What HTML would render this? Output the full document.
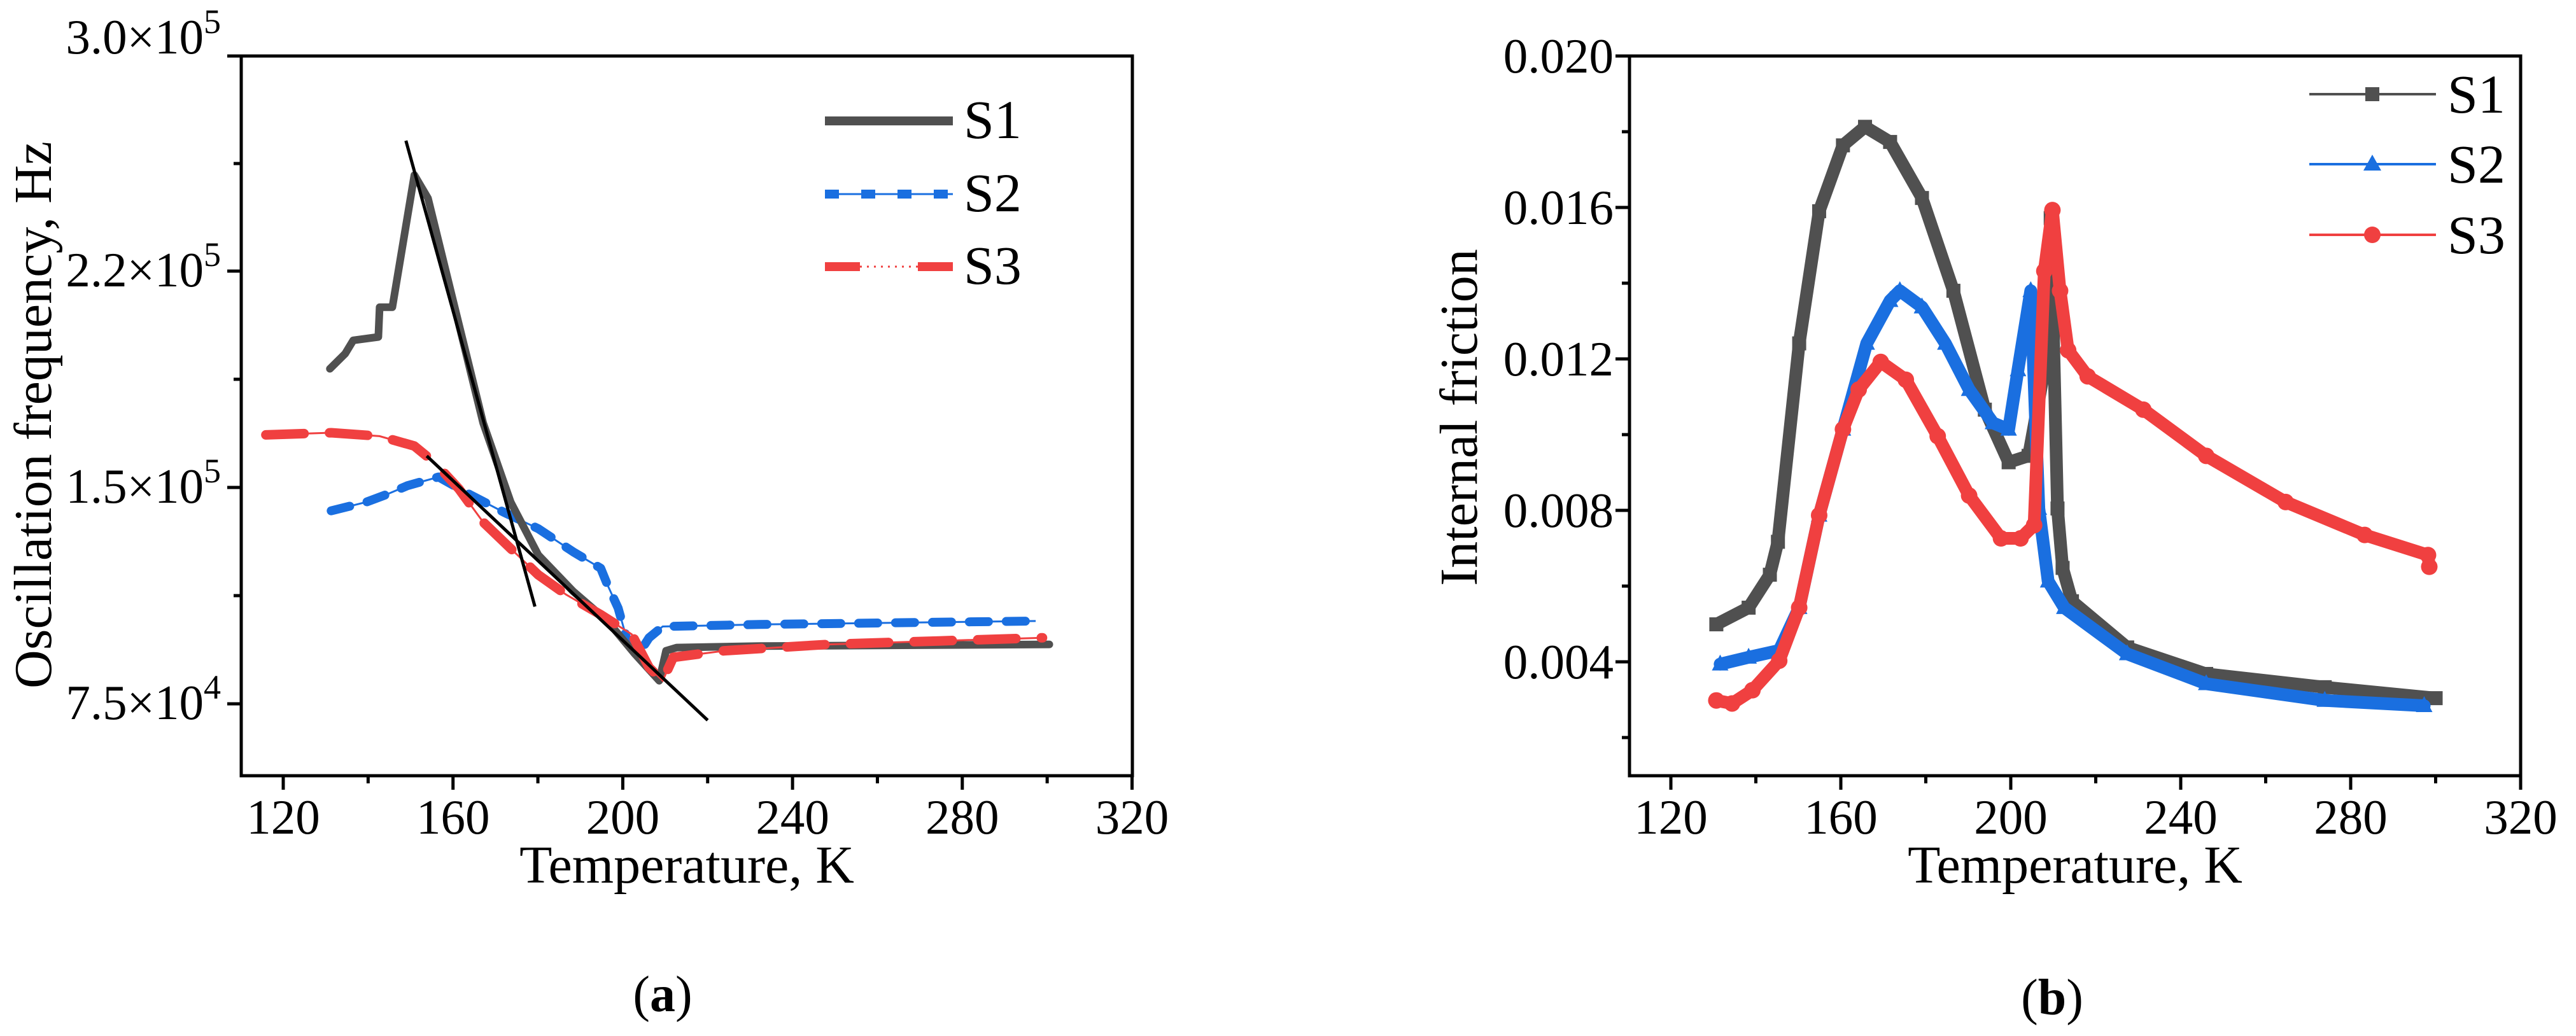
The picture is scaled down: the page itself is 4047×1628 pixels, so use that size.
<!DOCTYPE html>
<html><head><meta charset="utf-8"><style>
html,body{margin:0;padding:0;background:#fff;}
svg{display:block;font-family:"Liberation Serif",serif;}
</style></head>
<body>
<svg id="fig" width="4047" height="1628" viewBox="0 0 4047 1628" xmlns="http://www.w3.org/2000/svg">
<g id="chartA"></g>
<g id="chartB"></g>
</svg>
<script>
// ---------- Chart (a) data ----------
const aXTicks = [120,160,200,240,280,320];
const aYTickVals = [75000,150000,220000,300000];
const aYTickMant = ["7.5","1.5","2.2","3.0"];
const aYTickExp = ["4","5","5","5"];
const s1T = [131.0,134.6,136.5,142.4,142.7,145.7,150.9,154.1,160.6,167.1,173.6,180.1,188.3,196.4,202.9,208.6,210.2,212.7,232.2,300.5];
const s1F = [188400,193300,197600,198700,208300,208300,255700,247100,207200,170900,144900,126600,114000,103700,92200,83000,93400,94500,95000,95600];
const s2T = [131.3,139.5,144.4,149.3,156.6,163.9,172.0,180.1,188.3,194.8,196.4,198.9,201.3,203.7,206.2,209.4,232.2,297.3];
const s2F = [141900,144900,147600,150600,153400,147600,141400,135700,127700,122000,116200,108200,95600,92200,97900,101800,102500,103700];
const s3T = [115.9,131.3,142.7,150.9,155.7,161.4,167.1,173.6,180.1,186.7,194.8,202.1,206.2,209.4,211.9,224.0,248.5,274.5,298.9];
const s3F = [167000,167700,166600,163400,158000,149500,138000,128800,119700,112800,105900,99100,87600,83000,91100,93400,95600,96800,97900];
const fit1T = [148.9,179.3];
const fit1F = [268500,108700];
const fit2T = [153.8,220.0];
const fit2F = [160200,69300];

// ---------- Chart (b) data ----------
const bXTicks = [120,160,200,240,280,320];
const bYTicks = [0.004,0.008,0.012,0.016,0.020];
const bYTickLabels = ["0.004","0.008","0.012","0.016","0.020"];
const b1T = [130.7,138.3,143.3,145.2,150.2,154.9,160.5,165.7,171.6,179.1,186.5,193.9,199.5,204.2,207.9,209.4,211.0,212.2,214.4,227.4,246.0,273.9,300.0];
const b1Q = [0.00499,0.00543,0.00630,0.00717,0.01241,0.01590,0.01764,0.01813,0.01773,0.01625,0.01380,0.01066,0.00927,0.00944,0.01171,0.01572,0.00805,0.00648,0.00560,0.00438,0.00368,0.00333,0.00304];
const b2T = [131.6,138.3,145.5,150.2,154.9,160.5,166.1,171.6,173.9,179.1,184.6,190.2,195.8,199.5,201.7,204.7,206.6,208.8,212.6,227.4,246.0,273.9,297.3];
const b2Q = [0.00394,0.00412,0.00430,0.00543,0.00787,0.01014,0.01241,0.01354,0.01380,0.01337,0.01241,0.01119,0.01031,0.01014,0.01171,0.01380,0.00805,0.00613,0.00543,0.00421,0.00342,0.00298,0.00284];
const b3T = [130.7,134.4,139.2,145.5,150.2,154.9,160.5,164.2,169.4,175.3,182.8,190.2,197.7,202.3,205.5,207.9,209.8,211.6,213.5,218.1,231.2,246.0,264.7,283.3,298.2,298.5];
const b3Q = [0.00298,0.00290,0.00325,0.00403,0.00543,0.00787,0.01014,0.01119,0.01192,0.01145,0.00996,0.00839,0.00726,0.00726,0.00761,0.01432,0.01593,0.01380,0.01223,0.01154,0.01066,0.00944,0.00822,0.00735,0.00682,0.00651];

const NS = "http://www.w3.org/2000/svg";
function mk(parent, tag, attrs, text){
  const e = document.createElementNS(NS, tag);
  for (const k in attrs) e.setAttribute(k, attrs[k]);
  if (text !== undefined) e.textContent = text;
  parent.appendChild(e);
  return e;
}
const GRAY="#505050", BLUE="#1a6fe0", RED="#f04040";

// ===== Chart A =====
(function(){
  const g = document.getElementById('chartA');
  const L=379, R=1779, T=88, B=1219;
  const xA = t => 445 + (t-120)*(1333.5/200);
  const yPix = [1106,766,426,88];
  function yA(v){
    let i = 0;
    if (v <= aYTickVals[0]) i = 0;
    else if (v >= aYTickVals[2]) i = 2;
    else { while (v > aYTickVals[i+1]) i++; }
    const v0=aYTickVals[i], v1=aYTickVals[i+1];
    return yPix[i] + (v-v0)/(v1-v0)*(yPix[i+1]-yPix[i]);
  }
  const frame = mk(g,'rect',{x:L,y:T,width:R-L,height:B-T,fill:'none',stroke:'#000','stroke-width':5});
  
  
  for (let t=120; t<=320; t+=20){
    const major = aXTicks.includes(t);
    const tk = mk(g,'line',{x1:xA(t),x2:xA(t),y1:B,y2:B+(major?22:12),stroke:'#000','stroke-width':5});
    
    
  }
  aXTicks.forEach(t=>{
    const tx = mk(g,'text',{x:xA(t),y:1310,'font-size':77,'text-anchor':'middle'},String(t));
    
    
  });
  const yTickPix=[1106,766,426,88];
  yTickPix.forEach((p,i)=>{
    const tk = mk(g,'line',{x1:L-22,x2:L,y1:p,y2:p,stroke:'#000','stroke-width':5});
    
    
    const tx = mk(g,'text',{x:347,y:p+(i===3?-4:24),'font-size':77,'text-anchor':'end'});
    
    
    mk(tx,'tspan',{},aYTickMant[i]+"×10");
    mk(tx,'tspan',{'font-size':54,dy:-32},aYTickExp[i]);
  });
  [936,596,257].forEach(p=>{
    const tk = mk(g,'line',{x1:L-12,x2:L,y1:p,y2:p,stroke:'#000','stroke-width':5});
    
    
  });
  const xt = mk(g,'text',{x:1079,y:1387,'font-size':84,'text-anchor':'middle'},'Temperature, K');
  
  
  const yt = mk(g,'text',{x:0,y:0,'font-size':84,'text-anchor':'middle',transform:'translate(80,652) rotate(-90)'},'Oscillation frequency, Hz');
  
  
  const cap = mk(g,'text',{x:1041,y:1589,'font-size':80,'text-anchor':'middle'});
  
  
  mk(cap,'tspan',{},'(');
  mk(cap,'tspan',{'font-weight':'bold'},'a');
  mk(cap,'tspan',{},')');

  function pts(ts,vs){ return ts.map((t,i)=>xA(t).toFixed(1)+','+yA(vs[i]).toFixed(1)).join(' '); }
  const s2thin = mk(g,'polyline',{points:pts(s2T,s2F),fill:'none',stroke:BLUE,'stroke-width':3});
  
  
  const s2 = mk(g,'polyline',{points:pts(s2T,s2F),fill:'none',stroke:BLUE,'stroke-width':14,'stroke-dasharray':'30 28','stroke-linecap':'round','stroke-linejoin':'round'});
  
  
  const s1 = mk(g,'polyline',{points:pts(s1T,s1F),fill:'none',stroke:GRAY,'stroke-width':12,'stroke-linejoin':'round','stroke-linecap':'round'});
  
  
  const s3thin = mk(g,'polyline',{points:pts(s3T,s3F),fill:'none',stroke:RED,'stroke-width':3});
  
  
  const s3 = mk(g,'polyline',{points:pts(s3T,s3F),fill:'none',stroke:RED,'stroke-width':15,'stroke-dasharray':'60 40','stroke-linecap':'round','stroke-linejoin':'round'});
  
  
  const f1 = mk(g,'polyline',{points:pts(fit1T,fit1F),fill:'none',stroke:'#000','stroke-width':5});
  
  
  const f2 = mk(g,'polyline',{points:pts(fit2T,fit2F),fill:'none',stroke:'#000','stroke-width':5});
  
  

  const lg = mk(g,'g',{});
  
  
  const l1 = mk(lg,'line',{x1:1296,x2:1497,y1:190,y2:190,stroke:GRAY,'stroke-width':14});
  
  
  const l2a = mk(lg,'line',{x1:1296,x2:1497,y1:305,y2:305,stroke:BLUE,'stroke-width':3});
  
  
  const l2 = mk(lg,'line',{x1:1296,x2:1497,y1:305,y2:305,stroke:BLUE,'stroke-width':14,'stroke-dasharray':'22 35'});
  
  
  const l3a = mk(lg,'line',{x1:1296,x2:1497,y1:419,y2:419,stroke:RED,'stroke-width':3,'stroke-dasharray':'3 8'});
  
  
  const l3 = mk(lg,'line',{x1:1296,x2:1497,y1:419,y2:419,stroke:RED,'stroke-width':14,'stroke-dasharray':'55 91 55'});
  
  
  ['S1','S2','S3'].forEach((s,i)=>{
    const t = mk(lg,'text',{x:1514,y:[217,332,446][i],'font-size':86},s);
    
    
  });
})();

// ===== Chart B =====
(function(){
  const g = document.getElementById('chartB');
  const L=2560, R=3960, T=88, B=1219;
  const xB = t => 2625 + (t-120)*(1335/200);
  const yB = v => 88 + (0.020 - v)/0.004*238;
  const frame = mk(g,'rect',{x:L,y:T,width:R-L,height:B-T,fill:'none',stroke:'#000','stroke-width':5});
  
  
  for (let t=120; t<=320; t+=20){
    const major = bXTicks.includes(t);
    const tk = mk(g,'line',{x1:xB(t),x2:xB(t),y1:B,y2:B+(major?22:12),stroke:'#000','stroke-width':5});
    
    
  }
  bXTicks.forEach(t=>{
    const tx = mk(g,'text',{x:xB(t),y:1310,'font-size':77,'text-anchor':'middle'},String(t));
    
    
  });
  for (let v=0.002; v<0.0205; v+=0.002){
    const major = Math.round(v*1000)%4===0;
    const tk = mk(g,'line',{x1:L-(major?22:12),x2:L,y1:yB(v),y2:yB(v),stroke:'#000','stroke-width':5});
    
    
  }
  bYTicks.forEach((v,i)=>{
    const tx = mk(g,'text',{x:2535,y:yB(v)+26,'font-size':77,'text-anchor':'end'},bYTickLabels[i]);
    
    
  });
  const xt = mk(g,'text',{x:3260,y:1387,'font-size':84,'text-anchor':'middle'},'Temperature, K');
  
  
  const yt = mk(g,'text',{x:0,y:0,'font-size':84,'text-anchor':'middle',transform:'translate(2320,656) rotate(-90)'},'Internal friction');
  
  
  const cap = mk(g,'text',{x:3224,y:1594,'font-size':80,'text-anchor':'middle'});
  
  
  mk(cap,'tspan',{},'(');
  mk(cap,'tspan',{'font-weight':'bold'},'b');
  mk(cap,'tspan',{},')');

  function pts(ts,vs){ return ts.map((t,i)=>xB(t).toFixed(1)+','+yB(vs[i]).toFixed(1)).join(' '); }
  function series(ts,vs,color,shape,name){
    const sg = mk(g,'g',{});
    
    
    const pl = mk(sg,'polyline',{points:pts(ts,vs),fill:'none',stroke:color,'stroke-width':20,'stroke-linejoin':'round','stroke-linecap':'round'});
    
    
    ts.forEach((t,i)=>{
      const x=xB(t), y=yB(vs[i]);
      let m;
      if (shape==='sq') m = mk(sg,'rect',{x:x-11,y:y-11,width:22,height:22,fill:color});
      else if (shape==='tri') m = mk(sg,'polygon',{points:`${x},${y-15} ${x-13},${y+10} ${x+13},${y+10}`,fill:color});
      else m = mk(sg,'circle',{cx:x,cy:y,r:13,fill:color});
      
      
    });
  }
  series(b1T,b1Q,GRAY,'sq','series-s1-b');
  series(b2T,b2Q,BLUE,'tri','series-s2-b');
  series(b3T,b3Q,RED,'circ','series-s3-b');

  const lg = mk(g,'g',{});
  
  
  const ys=[148,258,369], cols=[GRAY,BLUE,RED];
  ['S1','S2','S3'].forEach((s,i)=>{
    const ln = mk(lg,'line',{x1:3628,x2:3827,y1:ys[i],y2:ys[i],stroke:cols[i],'stroke-width':4});
    
    
    let m;
    if (i===0) m = mk(lg,'rect',{x:3716,y:ys[i]-11,width:22,height:22,fill:cols[i]});
    else if (i===1) m = mk(lg,'polygon',{points:`3727,${ys[i]-15} 3713,${ys[i]+10} 3741,${ys[i]+10}`,fill:cols[i]});
    else m = mk(lg,'circle',{cx:3727,cy:ys[i],r:13,fill:cols[i]});
    
    
    const t = mk(lg,'text',{x:3845,y:ys[i]+29,'font-size':86},s);
    
    
  });
})();
</script>
</body></html>
